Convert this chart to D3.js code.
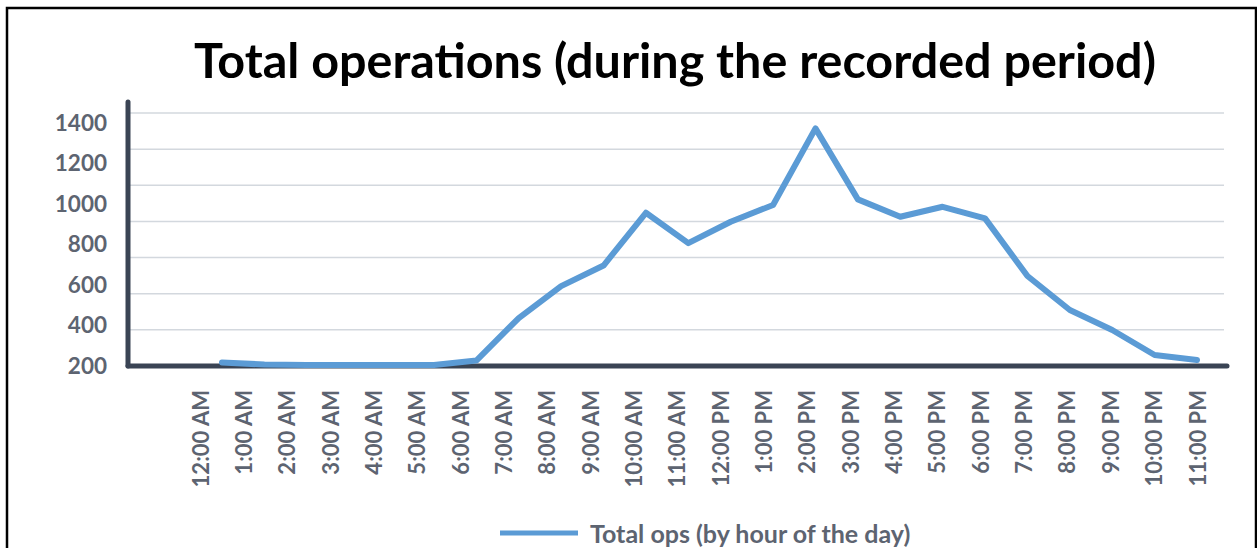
<!DOCTYPE html>
<html lang="en">
<head>
    <meta charset="UTF-8">
    <title>Total operations</title>
    <script src="https://d3js.org/d3.v7.min.js"></script>
    <style>
        body { margin: 0; background: #fff; }
        .grid line { stroke: #d3d8de; stroke-width: 1.5; }
        .axis-line { stroke: #3a4454; stroke-width: 5; stroke-linecap: round; }
        .ylabel, .xlabel, .legend-text {
            fill: #5d6471;
            font-family: Lato, "Open Sans", sans-serif;
            font-weight: bold;
        }
        .title {
            font-family: Lato, "Open Sans", sans-serif;
            font-weight: bold;
            fill: #000;
        }
    </style>
</head>
<body>
    <svg id="chart" width="1257" height="548"></svg>

    <script>
        const hours = ["12:00 AM", "1:00 AM", "2:00 AM", "3:00 AM", "4:00 AM", "5:00 AM",
                       "6:00 AM", "7:00 AM", "8:00 AM", "9:00 AM", "10:00 AM", "11:00 AM",
                       "12:00 PM", "1:00 PM", "2:00 PM", "3:00 PM", "4:00 PM", "5:00 PM",
                       "6:00 PM", "7:00 PM", "8:00 PM", "9:00 PM", "10:00 PM", "11:00 PM"];
        const totalOps = [20, 8, 5, 5, 5, 6, 30, 265, 442, 556, 848, 680,
                          798, 891, 1315, 922, 826, 881, 817, 498, 310, 199, 61, 33];
        const gridValues = [0, 200, 400, 600, 800, 1000, 1200, 1400];
        const yTickLabels = [200, 400, 600, 800, 1000, 1200, 1400];

        const svg = d3.select("#chart");

        // outer frame
        svg.append("rect")
           .attr("x", 7).attr("y", 8)
           .attr("width", 1249).attr("height", 560)
           .attr("fill", "none")
           .attr("stroke", "#000")
           .attr("stroke-width", 2.5);

        svg.append("text")
           .attr("class", "title")
           .attr("x", 675)
           .attr("y", 78)
           .attr("text-anchor", "middle")
           .attr("font-size", 48.5)
           .text("Total operations (during the recorded period)");

        const y = d3.scaleLinear().domain([0, 1400]).range([366, 113]);
        // the tick labels sit a bit off the gridlines in the source picture
        const yLab = d3.scaleLinear().domain([200, 1400]).range([365, 122]);
        const x = d3.scalePoint().domain(hours).range([222, 1197]);
        const xLab = d3.scalePoint().domain(hours).range([200, 1197]);

        // gridlines
        svg.append("g")
           .attr("class", "grid")
           .selectAll("line")
           .data(gridValues.slice(1))
           .enter()
           .append("line")
           .attr("x1", 130)
           .attr("x2", 1224)
           .attr("y1", d => y(d))
           .attr("y2", d => y(d));

        // y labels
        svg.selectAll(".ylabel")
           .data(yTickLabels)
           .enter()
           .append("text")
           .attr("class", "ylabel")
           .attr("x", 107)
           .attr("y", d => yLab(d))
           .attr("text-anchor", "end")
           .attr("dominant-baseline", "central")
           .attr("font-size", 22.5)
           .text(d => d);

        // x labels
        svg.selectAll(".xlabel")
           .data(hours)
           .enter()
           .append("text")
           .attr("class", "xlabel")
           .attr("transform", d => `translate(${xLab(d)},390) rotate(-90)`)
           .attr("text-anchor", "end")
           .attr("dominant-baseline", "central")
           .attr("font-size", 22)
           .text(d => d);

        // axes
        svg.append("line")
           .attr("class", "axis-line")
           .attr("x1", 128).attr("x2", 128)
           .attr("y1", 102).attr("y2", y(0));
        svg.append("line")
           .attr("class", "axis-line")
           .attr("x1", 128).attr("x2", 1227)
           .attr("y1", y(0)).attr("y2", y(0));

        // series
        const line = d3.line()
            .x((d, i) => x(hours[i]))
            .y(d => y(d));

        svg.append("path")
           .datum(totalOps)
           .attr("fill", "none")
           .attr("stroke", "#5b9bd5")
           .attr("stroke-width", 6)
           .attr("stroke-linejoin", "round")
           .attr("stroke-linecap", "round")
           .attr("d", line);

        // legend
        svg.append("line")
           .attr("x1", 500).attr("x2", 578)
           .attr("y1", 533).attr("y2", 533)
           .attr("stroke", "#5b9bd5")
           .attr("stroke-width", 5);
        svg.append("text")
           .attr("class", "legend-text")
           .attr("x", 590)
           .attr("y", 533)
           .attr("dominant-baseline", "central")
           .attr("font-size", 25)
           .text("Total ops (by hour of the day)");
    </script>
</body>
</html>
